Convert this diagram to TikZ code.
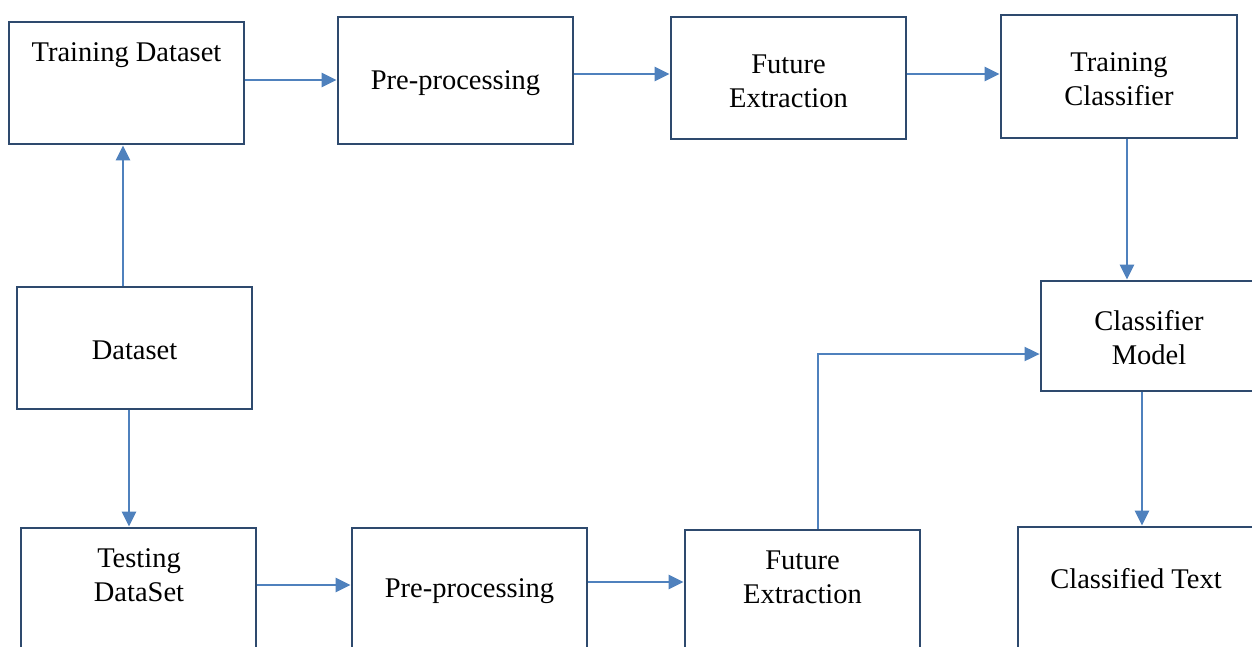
\documentclass[tikz,border=0pt]{standalone}
\usepackage{fontspec}
\setmainfont{Liberation Serif}
\usetikzlibrary{arrows.meta}
\definecolor{boxline}{HTML}{2E4A6E}
\definecolor{arrowblue}{HTML}{4F81BD}
\tikzset{
  box/.style={draw=boxline, line width=2.8pt, fill=white, rectangle, inner sep=0pt},
  lbl/.style={font=\fontsize{28.5}{34}\selectfont, align=center, text=black},
  conn/.style={draw=arrowblue, line width=2.6pt, -{Triangle[length=15pt,width=14pt]}},
  thin conn/.style={conn, line width=1.9pt},
}
\begin{document}
\begin{tikzpicture}[x=1pt,y=-1pt]
\useasboundingbox (0,0) rectangle (1252,646);
\fill[white] (0,0) rectangle (1252,646);
\clip (0,0) rectangle (1252,646);
% boxes
\node[box, minimum width=235pt, minimum height=122pt] (trd) at (126.5,83) {};
\node[box, minimum width=235pt, minimum height=127pt] (pp1) at (455.5,80.5) {};
\node[box, minimum width=235pt, minimum height=122pt] (fe1) at (788.5,78) {};
\node[box, minimum width=236pt, minimum height=123pt] (tc) at (1119,76.5) {};
\node[box, minimum width=235pt, minimum height=122pt] (ds) at (134.5,348) {};
\node[box, minimum width=240pt, minimum height=110pt] (cm) at (1161,336) {};
\node[box, minimum width=235pt, minimum height=180pt] (ted) at (138.5,618) {};
\node[box, minimum width=235pt, minimum height=180pt] (pp2) at (469.5,618) {};
\node[box, minimum width=235pt, minimum height=180pt] (fe2) at (802.5,620) {};
\node[box, minimum width=240pt, minimum height=180pt] (ct) at (1138,617) {};
% texts
\node[lbl] (trdt) at (126.5,55) {Training Dataset};
\node[lbl] (pp1t) at (455.5,83) {Pre-processing};
\node[lbl] (fe1t) at (788.5,81) {Future\\Extraction};
\node[lbl] (tct) at (1119,79) {Training\\Classifier};
\node[lbl] (dst) at (134.5,350) {Dataset};
\node[lbl] (cmt) at (1149,338) {Classifier\\Model};
\node[lbl] (tedt) at (139,575) {Testing\\DataSet};
\node[lbl] (pp2t) at (469.5,591) {Pre-processing};
\node[lbl] (fe2t) at (802.5,577) {Future\\Extraction};
\node[lbl] (ctt) at (1136,579) {Classified Text};
% connectors
\draw[conn] (trd.east |- 0,80) -- (pp1.west |- 0,80);
\draw[conn] (pp1.east |- 0,74) -- (fe1.west |- 0,74);
\draw[conn] (fe1.east |- 0,74) -- (tc.west |- 0,74);
\draw[conn] (tc.south -| 1127,0) -- (cm.north -| 1127,0);
\draw[conn] (ds.north -| 123,0) -- (trd.south -| 123,0);
\draw[conn] (ds.south -| 129,0) -- (ted.north -| 129,0);
\draw[conn] (ted.east |- 0,585) -- (pp2.west |- 0,585);
\draw[conn] (pp2.east |- 0,582) -- (fe2.west |- 0,582);
\draw[thin conn] (fe2.north -| 818,0) |- (cm.west |- 0,354);
\draw[conn] (cm.south -| 1142,0) -- (ct.north -| 1142,0);
\end{tikzpicture}
\end{document}
